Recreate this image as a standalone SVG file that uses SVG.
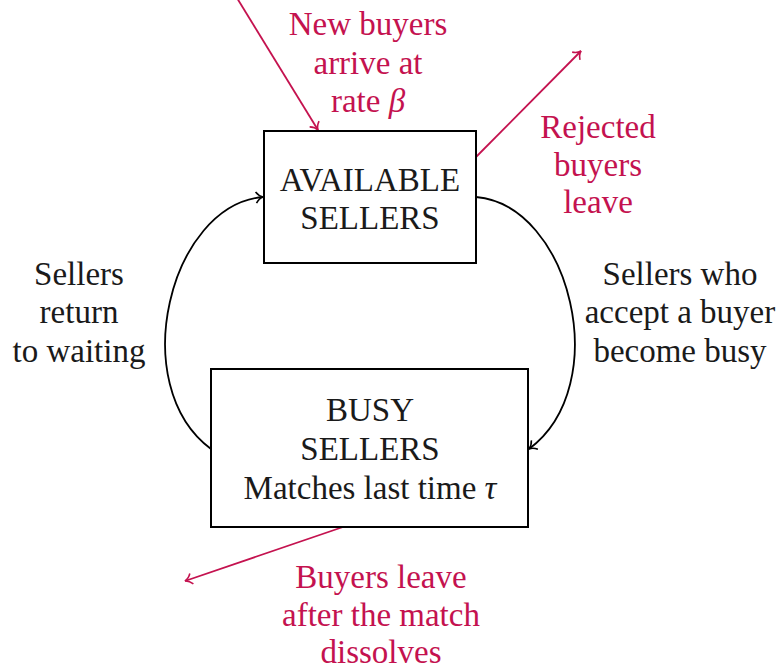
<svg xmlns="http://www.w3.org/2000/svg" width="784" height="672" viewBox="0 0 784 672">
<style>
text{font-family:'Liberation Serif','Times New Roman',serif;font-size:33px;text-anchor:middle;fill:#1a1a1a}
.r{fill:#c4124f}
.box{fill:#fff;stroke:#000;stroke-width:2}
.k{fill:none;stroke:#000;stroke-width:1.8}
.p{fill:none;stroke:#c4124f;stroke-width:1.8}
</style>
<defs>
<marker id="ak" markerWidth="14" markerHeight="14" refX="10" refY="7" orient="auto" markerUnits="userSpaceOnUse">
<path d="M3,1.5 Q6,6 10,7 Q6,8 3,12.5" fill="none" stroke="#000" stroke-width="1.6"/>
</marker>
<marker id="ap" markerWidth="14" markerHeight="14" refX="10" refY="7" orient="auto" markerUnits="userSpaceOnUse">
<path d="M3,1.5 Q6,6 10,7 Q6,8 3,12.5" fill="none" stroke="#c4124f" stroke-width="1.6"/>
</marker>
</defs>
<g id="connectors">
<path class="p" d="M237,-2 L318,130" marker-end="url(#ap)"/>
<path class="p" d="M476,157 L581,51" marker-end="url(#ap)"/>
<path class="p" d="M343,527 L185,581" marker-end="url(#ap)"/>
<path class="k" d="M476,197 C570,205 615,385 529,449" marker-end="url(#ak)"/>
<path class="k" d="M211,449 C125,385 170,205 263,197" marker-end="url(#ak)"/>
</g>
<g id="available">
<rect class="box" x="264" y="131" width="212" height="132"/>
<text x="370" y="191">AVAILABLE</text>
<text x="370" y="229">SELLERS</text>
</g>
<g id="busy">
<rect class="box" x="211" y="369" width="317" height="158"/>
<text x="370" y="421">BUSY</text>
<text x="370" y="460">SELLERS</text>
<text x="370" y="499">Matches last time <tspan font-style="italic">τ</tspan></text>
</g>
<g id="labels">
<text class="r" x="368" y="35">New buyers</text>
<text class="r" x="368" y="74">arrive at</text>
<text class="r" x="368" y="112">rate <tspan font-style="italic">β</tspan></text>
<text class="r" x="598" y="138">Rejected</text>
<text class="r" x="598" y="176">buyers</text>
<text class="r" x="598" y="213">leave</text>
<text x="79" y="285">Sellers</text>
<text x="79" y="323">return</text>
<text x="79" y="362">to waiting</text>
<text x="680" y="285">Sellers who</text>
<text x="680" y="323">accept a buyer</text>
<text x="680" y="362">become busy</text>
<text class="r" x="381" y="588">Buyers leave</text>
<text class="r" x="381" y="626">after the match</text>
<text class="r" x="381" y="663">dissolves</text>
</g>
</svg>
